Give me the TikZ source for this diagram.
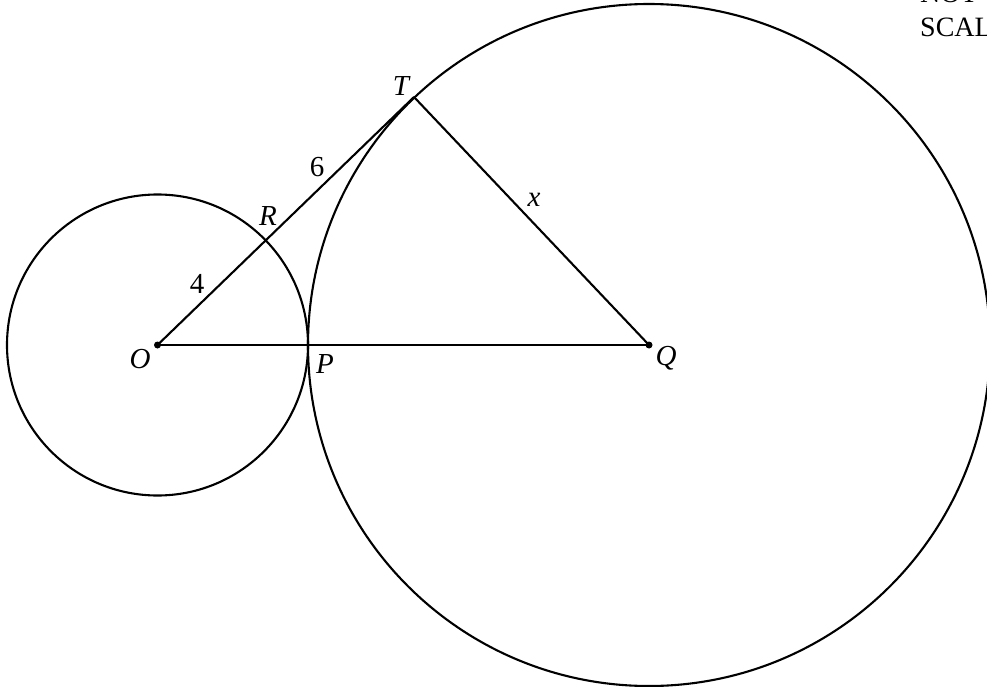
\documentclass[tikz,border=0pt]{standalone}
\usepackage{fontspec}
\setmainfont{Liberation Serif}
\begin{document}
\begin{tikzpicture}[x=1pt,y=-1pt,
  geo/.style={line width=2.1pt, black},
  lbl/.style={font=\fontsize{29}{34}\selectfont\itshape, anchor=base, inner sep=0pt},
  num/.style={font=\fontsize{29}{34}\selectfont, anchor=base, inner sep=0pt},
  note/.style={font=\fontsize{28}{33}\selectfont, anchor=base west, inner sep=0pt},
  dot/.style={circle, fill=black, inner sep=0pt, minimum size=7pt}]
\useasboundingbox (0,0) rectangle (987,687);
\clip (0,0) rectangle (987,687);
\coordinate (O) at (157.5,345);
\coordinate (Q) at (649,345);
\coordinate (T) at (414,97);
\coordinate (P) at (308,345);
\coordinate (R) at (265,241);
% circles
\draw[geo] (O) circle[radius=150.5];
\draw[geo] (Q) circle[radius=341];
% segments
\draw[geo] (O) -- (T);
\draw[geo] (T) -- (Q);
\draw[geo] (O) -- (Q);
\node[dot] (Odot) at (O) {};
\node[dot] (Qdot) at (Q) {};
% labels
\node[lbl] (lT) at (401,96) {T};
\node[lbl] (lR) at (268,225) {R};
\node[lbl] (lO) at (140,368) {O};
\node[lbl] (lP) at (325,373) {P};
\node[lbl] (lQ) at (666,365) {Q};
\node[lbl] (lx) at (534,207) {x};
\node[num] (l4) at (197,293) {4};
\node[num] (l6) at (317,177) {6};
\node[note] (n1) at (920,3) {NOT TO};
\node[note] (n2) at (920,37) {SCALE};
\end{tikzpicture}
\end{document}
